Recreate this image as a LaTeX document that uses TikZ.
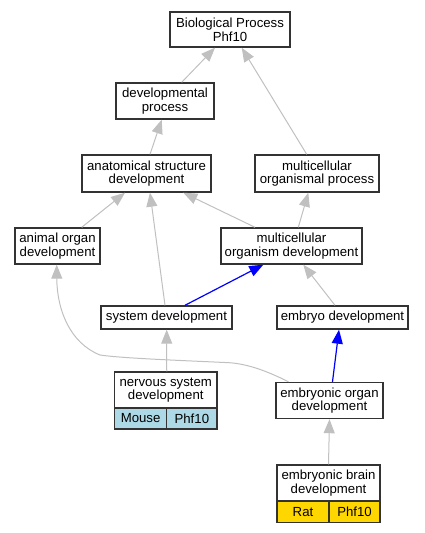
\documentclass[tikz,border=0pt]{standalone}
\usepackage{fontspec}
\setmainfont{Liberation Sans}
\usetikzlibrary{arrows.meta,calc}
\definecolor{edgegray}{HTML}{C0C0C0}
\definecolor{boxline}{HTML}{333333}
\definecolor{mouseblue}{HTML}{ADD8E6}
\definecolor{ratgold}{HTML}{FFD700}
\tikzset{
  box/.style={draw=boxline, line width=1.4pt, fill=white, inner sep=0pt, align=center,
    font=\fontsize{13.2}{13.6}\selectfont},
  cell/.style={draw=boxline, line width=1.4pt, inner sep=0pt, align=center,
    font=\fontsize{13.2}{13.6}\selectfont},
  edge/.style={draw=edgegray, line width=1pt, -{Triangle[length=14pt,width=11pt,fill=edgegray]}},
  bedge/.style={draw=blue, line width=1.2pt, -{Triangle[length=14pt,width=11pt,fill=blue]}},
}
\begin{document}
\begin{tikzpicture}[x=1pt,y=-1pt]
\useasboundingbox (0,0) rectangle (424,533);
% nodes
\node[box, minimum width=120pt, minimum height=35pt] (bp) at (230,29.5) {Biological Process\\Phf10};
\node[box, minimum width=98pt, minimum height=36pt] (dp) at (165,101) {developmental\\process};
\node[box, minimum width=129pt, minimum height=37pt] (asd) at (146.5,173.5) {anatomical structure\\development};
\node[box, minimum width=124pt, minimum height=37pt] (mop) at (317,173.5) {multicellular\\organismal process};
\node[box, minimum width=85pt, minimum height=36pt] (aod) at (57.5,246) {animal organ\\development};
\node[box, minimum width=141pt, minimum height=36pt] (mod) at (291.5,246) {multicellular\\organism development};
\node[box, minimum width=131pt, minimum height=23pt] (sd) at (166.5,317.5) {system development};
\node[box, minimum width=131pt, minimum height=23pt] (ed) at (342.5,317.5) {embryo development};
\node[box, minimum width=102.5pt, minimum height=36pt] (nsd) at (165.75,390) {nervous system\\development};
\node[cell, fill=mouseblue, minimum width=52.2pt, minimum height=21pt] (nsdL) at (140.6,418.5) {Mouse};
\node[cell, fill=mouseblue, minimum width=50.3pt, minimum height=21pt] (nsdR) at (191.85,418.5) {Phf10};
\node[box, minimum width=107pt, minimum height=36pt] (eod) at (329.5,400.5) {embryonic organ\\development};
\node[box, minimum width=103pt, minimum height=36pt] (ebd) at (328.5,483) {embryonic brain\\development};
\node[cell, fill=ratgold, minimum width=52pt, minimum height=21.5pt] (ebdL) at (303,511.75) {Rat};
\node[cell, fill=ratgold, minimum width=51pt, minimum height=21.5pt] (ebdR) at (354.5,511.75) {Phf10};
% edges
\draw[edge] ($(dp.north)+(16.7,0)$) -- ($(bp.south)+(-15,0)$);
\draw[edge] ($(mop.north)+(-10.3,0)$) -- ($(bp.south)+(11.7,0)$);
\draw[edge] ($(asd.north)+(3.5,0)$) -- ($(dp.south)+(-3.3,0)$);
\draw[edge] ($(aod.north)+(24.2,0)$) -- ($(asd.south)+(-21.5,0)$);
\draw[edge] ($(sd.north)+(-1.5,0)$) -- ($(asd.south)+(3.5,0)$);
\draw[edge] ($(mod.north)+(-36.5,0)$) -- ($(asd.south)+(36.8,0)$);
\draw[edge] ($(mod.north)+(6.8,0)$) -- ($(mop.south)+(-8.7,0)$);
\draw[bedge] ($(sd.north)+(18.5,0)$) -- ($(mod.south)+(-28.2,0)$);
\draw[edge] ($(ed.north)+(-7.5,0)$) -- ($(mod.south)+(11.8,0)$);
\draw[edge] ($(nsd.north)+(1,0)$) -- ($(sd.south)+(0.2,0)$);
\draw[bedge] ($(eod.north)+(3,0)$) -- ($(ed.south)+(-3.5,0)$);
\draw[edge] ($(eod.north)+(-41,0)$) .. controls (265,370) and (245,363) .. (225,362.5)
  .. controls (170,360) and (120,358) .. (100,355)
  .. controls (70,343) and (57,310) .. ($(aod.south)+(-0.8,0)$);
\draw[edge] (ebd.north) -- (eod.south);
\end{tikzpicture}
\end{document}
